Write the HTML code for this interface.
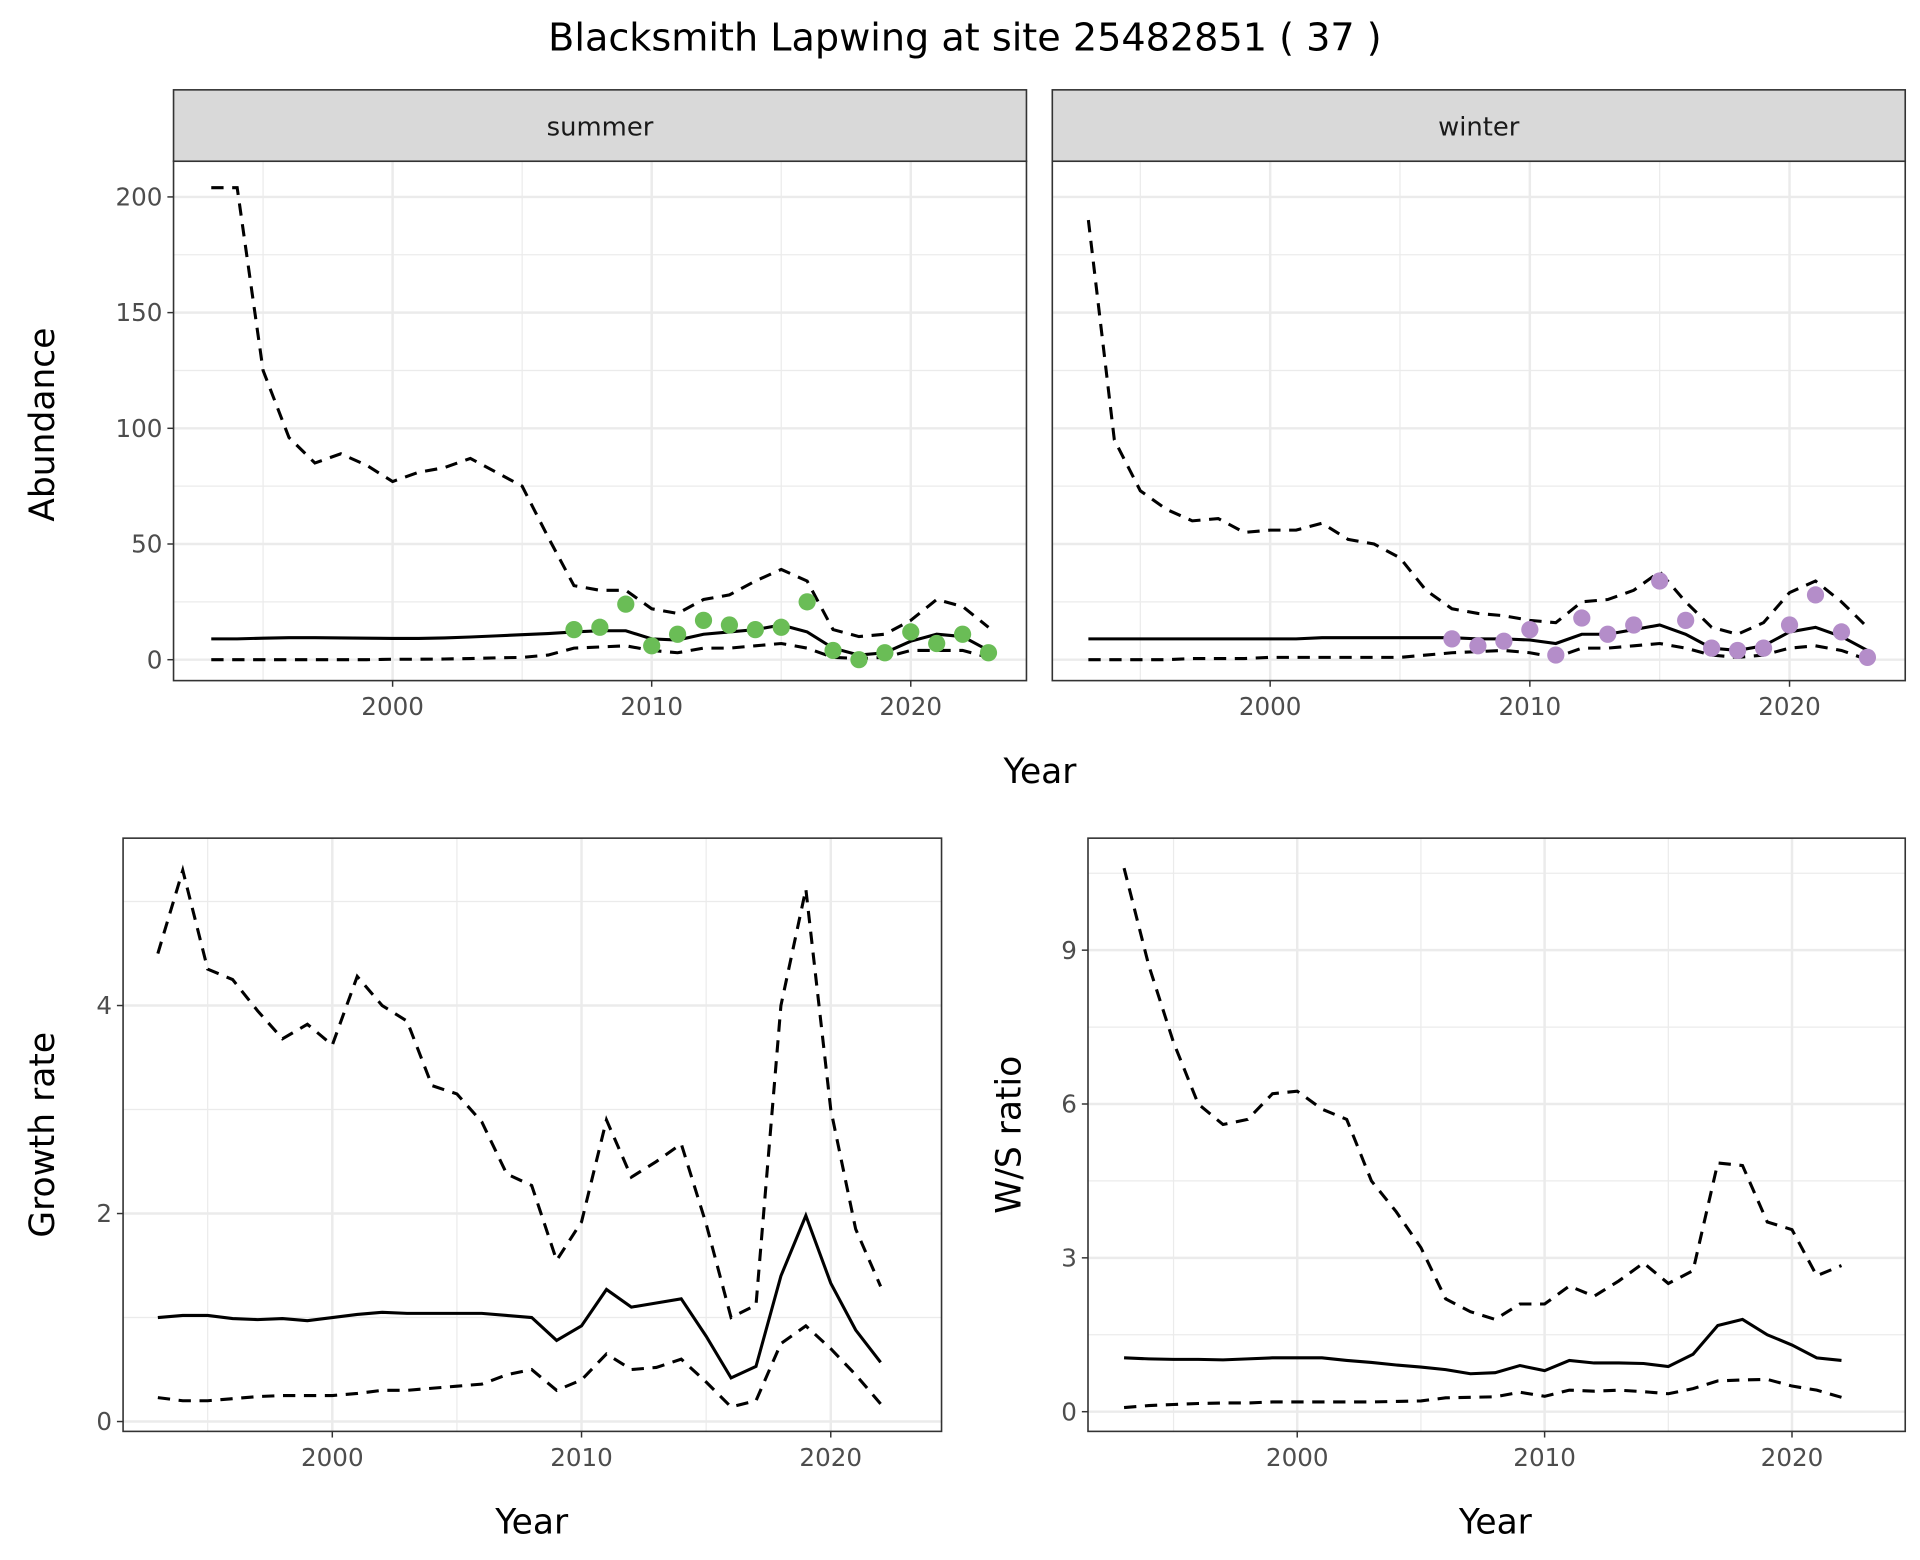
<!DOCTYPE html>
<html><head><meta charset="utf-8"><style>
html,body{margin:0;padding:0;background:#fff}
svg{display:block;font-family:"DejaVu Sans","Liberation Sans",sans-serif}
</style></head><body>
<svg id="chart" xmlns="http://www.w3.org/2000/svg" width="1920" height="1560" viewBox="0 0 1560 1267.5">
<rect width="1560" height="1267.5" fill="#fff"/>
<text x="784" y="41" font-size="31" text-anchor="middle" fill="#000">Blacksmith Lapwing at site 25482851 ( 37 )</text>
<g id="plots"></g>
</svg>
<script>
const absYears = [1993,1994,1995,1996,1997,1998,1999,2000,2001,2002,2003,2004,2005,2006,2007,2008,2009,2010,2011,2012,2013,2014,2015,2016,2017,2018,2019,2020,2021,2022,2023];
const summerMean = [9,9,9.3,9.5,9.5,9.4,9.3,9.2,9.2,9.4,9.8,10.3,10.8,11.3,12,12.5,12.5,9,8.5,11,12,13,15,12,5,2,3,8,11,10,4];
const summerUpper = [204,204,125,96,85,89,84,77,81,83,87,81,75,53,32,30,30,22,20,26,28,34,39,34,13,10,11,17,26,23,14];
const summerLower = [0,0,0,0,0,0,0,0.2,0.2,0.3,0.5,0.8,1,2,5,5.5,6,4,3,5,5,6,7,5,1,0.5,1,4,4,4,1];
const pointYears = [2007,2008,2009,2010,2011,2012,2013,2014,2015,2016,2017,2018,2019,2020,2021,2022,2023];
const summerPoints = [13,14,24,6,11,17,15,13,14,25,4,0,3,12,7,11,3];
const winterMean = [9,9,9,9,9,9,9,9,9,9.5,9.5,9.5,9.5,9.5,9.5,9,9,8.5,7,11,11,13,15,11,5,4,6,12,14,10,4];
const winterUpper = [190,95,73,65,60,61,55,56,56,59,52,50,44,30,22,20,19,17,16,25,26,30,38,25,14,11,16,29,34,25,14];
const winterLower = [0,0,0,0,0.5,0.5,0.5,1,1,1,1,1,1,2,3,3.5,4,3,1,5,5,6,7,5,2,1,2,5,6,4,0];
const winterPoints = [9,6,8,13,2,18,11,15,34,17,5,4,5,15,28,12,1];
const rateYears = [1993,1994,1995,1996,1997,1998,1999,2000,2001,2002,2003,2004,2005,2006,2007,2008,2009,2010,2011,2012,2013,2014,2015,2016,2017,2018,2019,2020,2021,2022];
const growthMean = [1.0,1.02,1.02,0.99,0.98,0.99,0.97,1.0,1.03,1.05,1.04,1.04,1.04,1.04,1.02,1.0,0.78,0.92,1.27,1.1,1.14,1.18,0.82,0.42,0.53,1.4,1.98,1.33,0.88,0.57];
const growthUpper = [4.5,5.3,4.35,4.25,3.95,3.68,3.82,3.62,4.28,4.0,3.85,3.23,3.15,2.88,2.38,2.27,1.55,1.92,2.9,2.35,2.5,2.67,1.9,1.0,1.12,4.0,5.12,3.0,1.85,1.3];
const growthLower = [0.23,0.2,0.2,0.22,0.24,0.25,0.25,0.25,0.27,0.3,0.3,0.32,0.34,0.36,0.45,0.5,0.3,0.4,0.65,0.5,0.52,0.6,0.38,0.14,0.2,0.75,0.92,0.7,0.45,0.17];
const ratioMean = [1.05,1.03,1.02,1.02,1.01,1.03,1.05,1.05,1.05,1.0,0.96,0.91,0.87,0.82,0.74,0.76,0.9,0.8,1.0,0.95,0.95,0.94,0.88,1.12,1.68,1.8,1.5,1.3,1.05,1.0];
const ratioUpper = [10.6,8.7,7.2,6.0,5.6,5.7,6.2,6.25,5.9,5.7,4.5,3.9,3.2,2.2,1.95,1.8,2.1,2.1,2.45,2.25,2.55,2.9,2.5,2.75,4.85,4.8,3.7,3.55,2.65,2.85];
const ratioLower = [0.08,0.12,0.14,0.16,0.17,0.17,0.19,0.19,0.19,0.19,0.19,0.2,0.21,0.27,0.28,0.29,0.38,0.3,0.42,0.4,0.42,0.39,0.35,0.45,0.6,0.62,0.63,0.5,0.42,0.28];
const xTicks = [2000,2010,2020];
const abundTicks = [0,50,100,150,200];
const growthTicks = [0,2,4];
const ratioTicks = [0,3,6,9];

const NS='http://www.w3.org/2000/svg';
const root=document.getElementById('plots');
function mk(tag,attrs,parent){const e=document.createElementNS(NS,tag);for(const k in attrs)e.setAttribute(k,attrs[k]);(parent||root).appendChild(e);return e;}

function panel(o){
  const g=mk('g',{});
  
  
  const sx=v=>o.xa+(v-2000)*o.xk;
  const sy=v=>o.y0+(v-o.r0)/(o.r1-o.r0)*(o.y1-o.y0);
  for(let yr=1985;yr<=2035;yr+=10){const x=sx(yr);if(x>o.x0&&x<o.x1)mk('line',{x1:x,x2:x,y1:o.top,y2:o.bot,stroke:'#ebebeb','stroke-width':1},g);}
  const step=o.yt[1]-o.yt[0];
  for(let i=-1;i<o.yt.length+1;i++){const v=o.yt[0]+step*(i+0.5);const y=sy(v);if(y>o.top&&y<o.bot)mk('line',{x1:o.x0,x2:o.x1,y1:y,y2:y,stroke:'#ebebeb','stroke-width':1},g);}
  xTicks.forEach(t=>{const x=sx(t);mk('line',{x1:x,x2:x,y1:o.top,y2:o.bot,stroke:'#ebebeb','stroke-width':2},g);
    mk('line',{x1:x,x2:x,y1:o.bot,y2:o.bot+5,stroke:'#333','stroke-width':1.2},g);
    const t1=mk('text',{x:x,y:o.bot+28,'font-size':20,'text-anchor':'middle',fill:'#4d4d4d'},g);t1.textContent=t;
    
    });
  o.yt.forEach(t=>{const y=sy(t);mk('line',{x1:o.x0,x2:o.x1,y1:y,y2:y,stroke:'#ebebeb','stroke-width':2},g);
    if(o.ylab){mk('line',{x1:o.x0-5,x2:o.x0,y1:y,y2:y,stroke:'#333','stroke-width':1.2},g);
    const t1=mk('text',{x:o.x0-9,y:y+7,'font-size':20,'text-anchor':'end',fill:'#4d4d4d'},g);t1.textContent=t;
    
    }});
  const line=(ys,vals,dash,nm)=>{const p=mk('polyline',{points:vals.map((v,i)=>sx(ys[i])+','+sy(v)).join(' '),fill:'none',stroke:'#000','stroke-width':2.5,'stroke-dasharray':dash?'10,7':'none'},g);
    
    };
  line(o.years,o.upper,true,'upper-ci-line');
  line(o.years,o.lower,true,'lower-ci-line');
  line(o.years,o.mean,false,'mean-line');
  if(o.pts){o.pts.forEach((v,i)=>{const c=mk('circle',{cx:sx(pointYears[i]),cy:sy(v),r:7,fill:o.col},g);
    
    });}
  mk('rect',{x:o.x0,y:o.top,width:o.x1-o.x0,height:o.bot-o.top,fill:'none',stroke:'#333','stroke-width':1.3},g);
  if(o.strip){const s=mk('rect',{x:o.x0,y:o.top-58,width:o.x1-o.x0,height:58,fill:'#d9d9d9',stroke:'#333','stroke-width':1.3},g);
    
    
    const st=mk('text',{x:(o.x0+o.x1)/2,y:o.top-21,'font-size':21,'text-anchor':'middle',fill:'#1a1a1a'},g);st.textContent=o.strip;
    
    }
}
panel({name:'summer-panel',x0:141,x1:834,top:131,bot:553,xa:319,xk:21.05,y0:536,y1:160,r0:0,r1:200,
  yt:abundTicks,ylab:true,years:absYears,mean:summerMean,upper:summerUpper,lower:summerLower,pts:summerPoints,col:'#6abd56',strip:'summer'});
panel({name:'winter-panel',x0:855,x1:1548,top:131,bot:553,xa:1032,xk:21.1,y0:536,y1:160,r0:0,r1:200,
  yt:abundTicks,ylab:false,years:absYears,mean:winterMean,upper:winterUpper,lower:winterLower,pts:winterPoints,col:'#b48dc9',strip:'winter'});
panel({name:'growth-panel',x0:100,x1:765,top:681,bot:1163,xa:270,xk:20.25,y0:1155,y1:986,r0:0,r1:2,
  yt:growthTicks,ylab:true,years:rateYears,mean:growthMean,upper:growthUpper,lower:growthLower});
panel({name:'ratio-panel',x0:884,x1:1548,top:681,bot:1163,xa:1054,xk:20.1,y0:1147,y1:1022,r0:0,r1:3,
  yt:ratioTicks,ylab:true,years:rateYears,mean:ratioMean,upper:ratioUpper,lower:ratioLower});

const svg=document.getElementById('chart');
function t(txt,x,y,rot,nm){const e=document.createElementNS(NS,'text');
e.setAttribute('x',x);e.setAttribute('y',y);e.setAttribute('font-size',28);e.setAttribute('text-anchor','middle');e.setAttribute('fill','#000');
if(rot)e.setAttribute('transform','rotate(-90 '+x+' '+y+')');e.textContent=txt;


svg.appendChild(e);}
t('Abundance',44,345,true,'y-axis-title-abundance');
t('Year',845,636,false,'x-axis-title-top');
t('Growth rate',44,922,true,'y-axis-title-growth');
t('W/S ratio',829,922,true,'y-axis-title-ratio');
t('Year',432,1246,false,'x-axis-title-growth');
t('Year',1215,1246,false,'x-axis-title-ratio');
</script>
</body></html>
